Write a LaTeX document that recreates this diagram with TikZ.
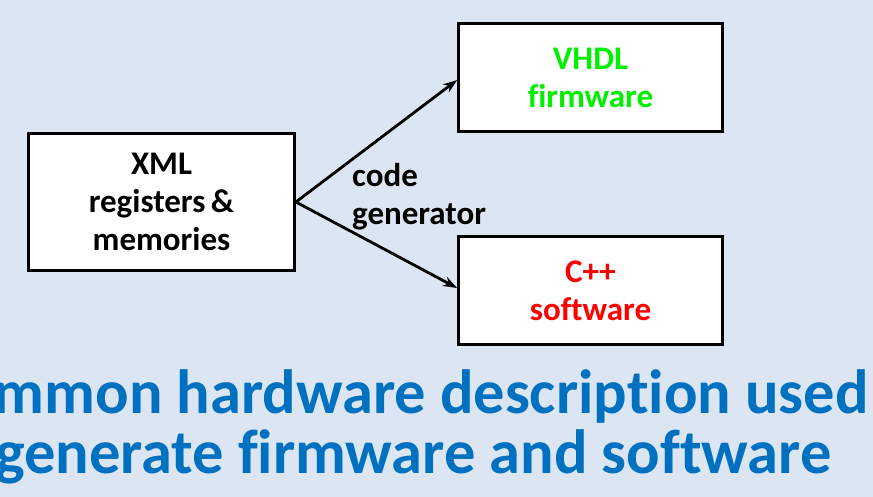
\documentclass[tikz,border=0pt]{standalone}
\usepackage{fontspec}
\setmainfont{Carlito}[Ligatures={NoCommon}]
\usetikzlibrary{arrows.meta}
\definecolor{bgblue}{HTML}{DCE6F2}
\definecolor{titleblue}{HTML}{0070C0}
\definecolor{vhdlgreen}{RGB}{0,240,0}
\definecolor{cppred}{RGB}{255,0,0}
\begin{document}
\begin{tikzpicture}[x=1pt,y=-1pt,
  box/.style={draw=black,line width=2.8pt,fill=white,minimum width=265pt,inner sep=0pt,
    align=center,font=\fontsize{33}{38}\selectfont\bfseries},
  conn/.style={line width=2.8pt,-{Stealth[length=14pt,width=10pt]}},
  lbl/.style={align=left,font=\fontsize{33}{38}\selectfont\bfseries,inner sep=0pt},
  title/.style={text=titleblue,font=\fontsize{62.5}{62.5}\selectfont\bfseries,inner sep=0pt}]
\clip (0,0) rectangle (873,497);
\fill[bgblue] (0,0) rectangle (873,497);
\node[box,minimum width=266pt,minimum height=137pt] (xml) at (161.5,202) {XML\\registers\,\&\\memories};
\node[box,minimum width=264pt,minimum height=108pt,text=vhdlgreen] (vhdl) at (590.5,77.5) {VHDL\\firmware};
\node[box,minimum width=264pt,minimum height=108pt,text=cppred] (cpp) at (590.5,290.5) {C++\\software};
\draw[conn] (xml.east) -- ([yshift=-2.5pt]vhdl.west);
\draw[conn] (xml.east) -- ([yshift=2.5pt]cpp.west);
\node[lbl,anchor=base west] (cg) at (352,225) {code\\generator};
\node[title,anchor=base east] (t1) at (869,413) {mmon hardware description used};
\node[title,anchor=base west] (t2) at (-5,473) {generate firmware and software};
\end{tikzpicture}
\end{document}
